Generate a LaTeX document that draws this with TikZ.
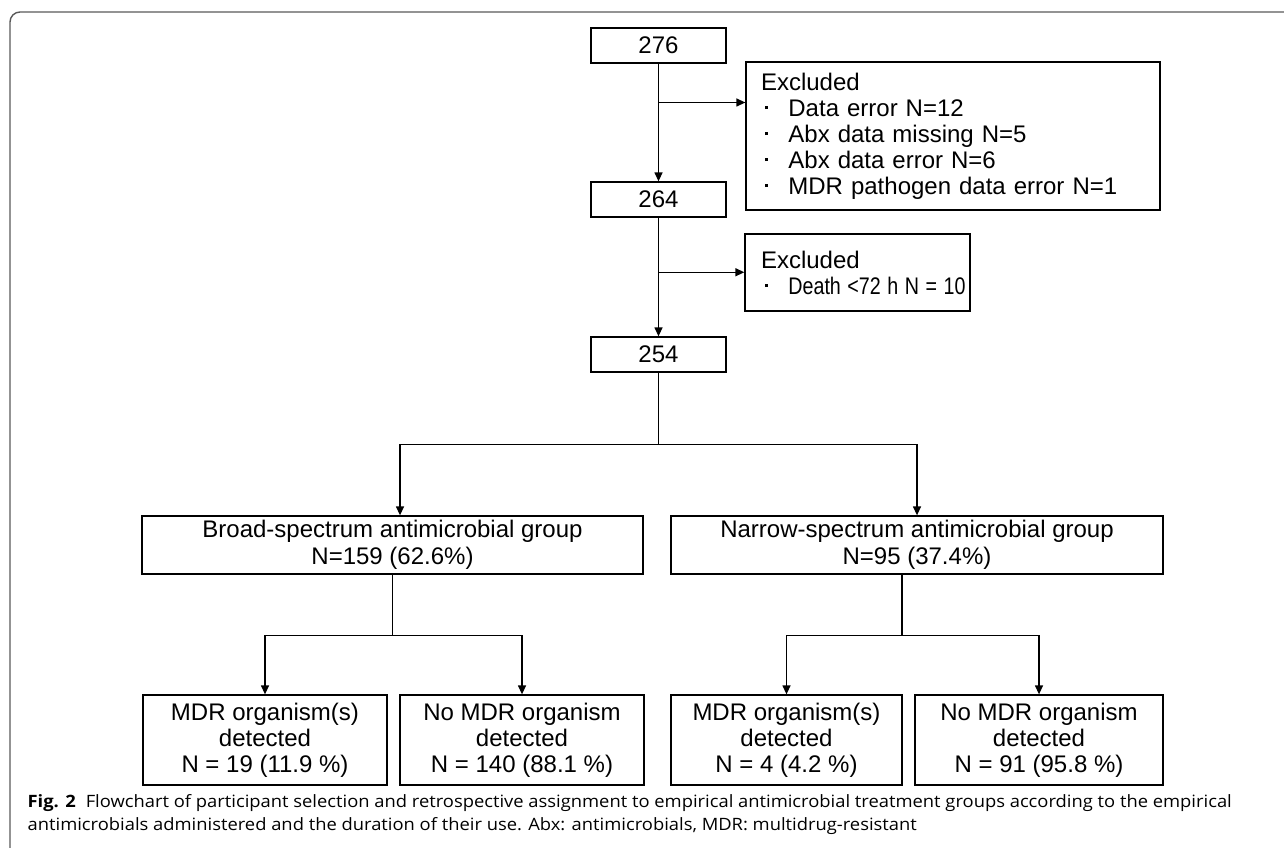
\documentclass[tikz,border=0pt]{standalone}
\usepackage{graphicx}
\usepackage{fontspec}
\setmainfont{Liberation Sans}
\newfontfamily\capfont[FakeStretch=1.08]{Open Sans}
\usetikzlibrary{positioning,arrows.meta}

\newcommand{\sqbullet}{\hspace{4pt}\rule[7pt]{3.4pt}{3.4pt}\hspace{20pt}}

\begin{document}
\begin{tikzpicture}[x=1pt, y=-1pt, ->, >={Triangle[length=9pt,width=8pt]}, line width=1.3pt,
numnode/.style={draw, rectangle, -, inner sep=0pt, minimum width=135pt, minimum height=35pt, font=\fontsize{24}{26}\selectfont},
exclnode/.style={draw, rectangle, -, inner sep=0pt, align=left, font=\fontsize{24}{26}\selectfont},
groupnode/.style={draw, rectangle, -, inner sep=0pt, align=center, minimum height=58pt, font=\fontsize{24}{27}\selectfont},
leafnode/.style={draw, rectangle, -, inner sep=0pt, align=center, minimum height=90pt, font=\fontsize{24}{26}\selectfont},
captext/.style={anchor=base west, inner sep=0pt, font=\capfont\fontsize{17}{22}\selectfont}]
    \useasboundingbox (0,0) rectangle (1284,847);
    \draw[-, line width=1.4pt, black!65, rounded corners=10pt] (10,850) -- (10,12) -- (1290,12);

    \node[numnode] (n276) at (658.5,45.5) {276};
    \node[numnode] (n264) at (658.5,199.5) {264};
    \node[numnode] (n254) at (658.5,354.5) {254};

    \node[exclnode, minimum width=414pt, minimum height=148pt, text width=384pt] (excl1) at (953,136)
      {Excluded\\ \sqbullet Data error N=12\\ \sqbullet Abx data missing N=5\\ \sqbullet Abx data error N=6\\ \sqbullet MDR pathogen data error N=1};
    \node[exclnode, minimum width=225pt, minimum height=77pt, text width=193pt] (excl2) at (857.5,272.5)
      {Excluded\\ \sqbullet\makebox[0pt][l]{\scalebox{0.82}[1]{Death <72 h N = 10}}};

    \node[groupnode, minimum width=501pt] (broad) at (392.5,545) {Broad-spectrum antimicrobial group\\N=159 (62.6\%)};
    \node[groupnode, minimum width=492pt] (narrow) at (917,545) {Narrow-spectrum antimicrobial group\\N=95 (37.4\%)};

    \node[leafnode, minimum width=244pt] (bmdr) at (265,740) {MDR organism(s)\\detected\\N = 19 (11.9 \%)};
    \node[leafnode, minimum width=244pt] (bnomdr) at (522,740) {No MDR organism\\detected\\N = 140 (88.1 \%)};
    \node[leafnode, minimum width=231pt] (nmdr) at (786.5,740) {MDR organism(s)\\detected\\N = 4 (4.2 \%)};
    \node[leafnode, minimum width=248pt] (nnomdr) at (1039,740) {No MDR organism\\detected\\N = 91 (95.8 \%)};

    % exclusions
    \draw (n276.south) -- (n264.north);
    \path (n276.south) -- (n264.north) coordinate[pos=0.33] (split1);
    \draw (split1) -- (split1 -| excl1.west);
    \draw (n264.south) -- (n254.north);
    \path (n264.south) -- (n254.north) coordinate[pos=0.46] (split2);
    \draw (split2) -- (split2 -| excl2.west);

    % groups
    \draw[-] (n254.south) -- ++(0,72) coordinate (split3);
    \draw (split3) -| ([xshift=7.5pt]broad.north);
    \draw (split3) -| (narrow.north);

    % MDR detection
    \draw[-] (broad.south) -- ++(0,61) coordinate (split4);
    \draw (split4) -| (bmdr.north);
    \draw (split4) -| (bnomdr.north);
    \draw[-] ([xshift=-15pt]narrow.south) -- ++(0,61) coordinate (split5);
    \draw (split5) -| (nmdr.north);
    \draw (split5) -| (nnomdr.north);

    \node[captext] (cap1) at (27,807.7) {\textbf{Fig. 2}\hspace{10pt}Flowchart of participant selection and retrospective assignment to empirical antimicrobial treatment groups according to the empirical};
    \node[captext] (cap2) at (27,830.4) {antimicrobials administered and the duration of their use. Abx: antimicrobials, MDR: multidrug-resistant};
\end{tikzpicture}
\end{document}
